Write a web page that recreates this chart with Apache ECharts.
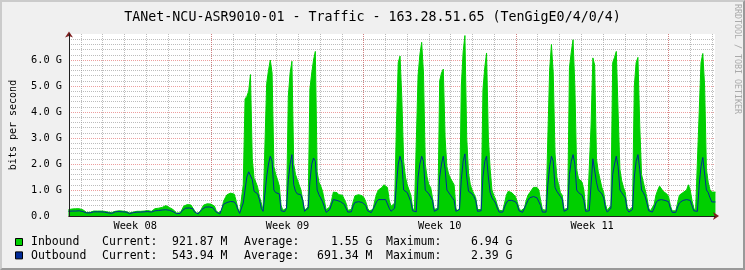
<!DOCTYPE html>
<html>
<head>
<meta charset="utf-8">
<script src="https://cdn.jsdelivr.net/npm/echarts@6/dist/echarts.min.js"></script>
<style>
html,body{margin:0;padding:0;background:#F0F0F0;}
#wrap{position:relative;width:745px;height:270px;}
#chart{position:absolute;left:0;top:0;width:745px;height:270px;}
#frame{position:absolute;left:0;top:0;width:745px;height:270px;box-sizing:border-box;border:2px solid;border-color:#CBCBCB #999999 #999999 #CBCBCB;pointer-events:none;}
</style>
</head>
<body>
<div id="wrap"><div id="chart"></div><div id="frame"></div></div>
<script>
// ---- data (Gbit/s), 2-hour samples, first sample = day 0 06:00 ----
const startDay = 0.25;
const stepDay = 1 / 12;
const inbound = [
  .24,.26,.27,.28,.28,.27,.28,.26,.24,                 // day 0 (from 06:00)
  .2,.14,.13,.14,.17,.19,.2,.19,.2,.19,.18,.18,        // day 1
  .17,.15,.12,.13,.16,.18,.19,.2,.19,.19,.18,.17,      // day 2
  .14,.12,.13,.15,.18,.18,.19,.18,.18,.19,.2,.21,      // day 3
  .2,.18,.22,.28,.3,.3,.31,.33,.33,.4,.34,.33,         // day 4
  .3,.25,.18,.12,.1,.12,.25,.38,.43,.44,.44,.42,       // day 5
  .4,.2,.1,.1,.15,.3,.42,.46,.47,.47,.46,.44,          // day 6
  .38,.2,.12,.1,.2,.55,.7,.82,.8,.88,.85,.84,          // day 7
  .6,.3,.12,.12,1.2,4.5,4.6,4.8,5.44,2.2,1.45,1.3,     // day 8
  1.1,.75,.5,.22,.25,5.1,5.6,6.0,5.5,1.9,1.6,1.4,      // day 9
  1.15,.4,.22,.2,.3,4.6,5.5,5.95,2.0,1.6,1.4,1.2,      // day 10
  1.0,.63,.22,.2,.35,4.9,5.5,6.0,6.33,1.7,1.3,1.15,    // day 11
  .95,.6,.24,.24,.35,.6,.92,.92,.9,.82,.82,.8,         // day 12
  .75,.5,.22,.2,.25,.55,.78,.82,.82,.8,.78,.7,         // day 13
  .55,.3,.2,.2,.25,.6,.85,1.0,1.0,1.1,1.2,1.2,         // day 14
  1.1,.6,.37,.37,.5,3.5,5.9,6.15,4.5,2.1,1.5,1.2,      // day 15
  1.0,.8,.3,.22,.22,5.4,6.2,6.68,5.5,2.0,1.5,1.2,      // day 16
  1.1,.7,.25,.2,.3,5.2,5.5,5.65,3.0,1.9,1.6,1.45,      // day 17
  1.4,1.2,.3,.2,.3,5.0,6.3,6.94,3.0,1.65,1.2,1.0,      // day 18
  .85,.7,.25,.2,.25,4.85,5.7,6.27,3.0,1.8,1.0,.8,      // day 19
  .65,.4,.22,.2,.2,.5,.8,.95,1.0,.9,.88,.75,           // day 20
  .55,.3,.2,.2,.3,.6,.8,.9,1.0,1.1,1.15,1.1,           // day 21
  1.0,.6,.25,.2,.22,3.0,5.6,6.6,5.5,2.4,1.5,1.2,       // day 22
  .9,.8,.25,.2,.3,5.7,6.3,6.78,5.0,1.8,1.45,1.4,       // day 23
  1.3,1.0,.3,.2,.25,3.5,6.08,5.8,2.2,1.7,1.4,1.1,      // day 24
  .9,.45,.22,.22,.4,5.9,6.1,6.33,4.0,1.8,1.35,1.1,     // day 25
  .9,.35,.22,.22,.35,5.0,5.9,6.1,3.5,1.6,1.3,1.0,      // day 26
  .7,.3,.2,.22,.45,.8,1.0,1.15,1.1,.95,.9,.85,         // day 27
  .75,.4,.2,.18,.2,.5,.8,.85,.9,.95,1.0,1.2,           // day 28
  1.0,.6,.3,.2,.25,4.0,5.9,6.25,5.0,1.8,1.3,1.0,       // day 29
  .92,.92,.92                                          // day 30
];
const outbound = [
  .18,.18,.19,.19,.19,.19,.2,.18,.17,
  .15,.12,.1,.12,.14,.16,.17,.16,.17,.16,.16,.15,
  .15,.12,.08,.1,.14,.16,.17,.17,.16,.16,.16,.15,
  .1,.09,.1,.13,.15,.15,.16,.15,.15,.16,.17,.17,
  .16,.15,.17,.2,.2,.21,.22,.23,.24,.24,.24,.22,
  .2,.17,.12,.09,.08,.1,.2,.27,.3,.3,.31,.3,
  .28,.15,.09,.08,.12,.25,.32,.34,.35,.35,.34,.32,
  .25,.15,.09,.08,.15,.45,.5,.52,.5,.56,.55,.54,
  .45,.25,.1,.12,.5,1.0,1.5,1.7,1.75,1.4,.95,.9,
  .85,.63,.3,.18,.2,1.5,2.0,2.3,2.1,1.0,.9,.88,
  .85,.2,.16,.17,.3,1.4,2.0,2.36,1.2,.95,.85,.82,
  .82,.6,.18,.17,.3,1.33,2.0,2.23,2.1,1.0,.82,.75,
  .55,.35,.14,.14,.25,.45,.63,.63,.6,.6,.55,.5,
  .45,.3,.15,.14,.16,.4,.52,.54,.55,.54,.52,.45,
  .4,.2,.14,.13,.16,.4,.55,.63,.63,.63,.65,.63,
  .6,.3,.18,.18,.3,1.2,2.0,2.3,2.05,1.0,.95,.9,
  .9,.55,.2,.15,.16,1.5,2.0,2.3,2.1,1.0,.95,.85,
  .8,.6,.18,.15,.25,1.5,2.0,2.3,1.8,1.0,1.0,.8,
  .7,.6,.18,.15,.25,1.4,2.1,2.39,1.5,.95,.88,.85,
  .75,.6,.18,.15,.2,1.5,2.1,2.3,1.5,.9,.7,.6,
  .5,.3,.15,.14,.15,.35,.5,.6,.6,.6,.6,.55,
  .45,.2,.14,.14,.2,.45,.6,.7,.72,.75,.75,.7,
  .65,.4,.15,.13,.15,1.2,1.9,2.3,2.1,1.1,.95,.85,
  .75,.65,.18,.15,.25,1.6,2.1,2.36,2.0,1.0,.9,.85,
  .8,.6,.18,.15,.2,1.2,2.2,2.2,1.3,1.0,.95,.85,
  .7,.3,.15,.15,.3,1.6,2.0,2.3,1.9,1.0,.9,.85,
  .7,.25,.15,.15,.25,1.5,2.1,2.36,1.8,1.0,.9,.75,
  .5,.2,.14,.15,.3,.5,.6,.63,.63,.63,.6,.6,
  .55,.3,.14,.13,.14,.35,.5,.55,.6,.63,.63,.6,
  .6,.4,.2,.14,.18,1.2,1.9,2.25,2.2,1.0,.9,.7,
  .54,.54,.54
];
const weekLabels = ['Week 08', 'Week 09', 'Week 10', 'Week 11'];
const weekLabelDays = [3.5, 10.5, 17.5, 24.5];
const yTicksG = [0, 1, 2, 3, 4, 5, 6];
const legendRows = [
  {name: 'Inbound',  color: '#00CF00', current: '921.87 M', average: '1.55 G',   maximum: '6.94 G'},
  {name: 'Outbound', color: '#002A97', current: '543.94 M', average: '691.34 M', maximum: '2.39 G'}
];
const titleText = 'TANet-NCU-ASR9010-01 - Traffic - 163.28.51.65 (TenGigE0/4/0/4)';

// ---- layout ----
const MONO = '"DejaVu Sans Mono", monospace';
const PLOT_L = 65, PLOT_R = 715, PLOT_T = 34, PLOT_H = 182;
const DAY0_X = 59, PX_PER_DAY = 21.76;
const xMin = (PLOT_L - DAY0_X) / PX_PER_DAY;
const xMax = (PLOT_R - DAY0_X) / PX_PER_DAY;
const GRID_C = 'rgba(143,143,143,0.6)';
const MGRID_C = 'rgba(222,79,79,0.55)';

const toPairs = arr => arr.map((v, i) => [startDay + i * stepDay, v]);

const chart = echarts.init(document.getElementById('chart'), null, {renderer: 'canvas'});

const hidden = {axisLine:{show:false}, axisTick:{show:false}, axisLabel:{show:false}, splitLine:{show:false}};
const xa = (o, extra) => Object.assign({type:'value', position:'bottom'}, o, hidden, extra || {});
const ya = (o, extra) => Object.assign({type:'value', position:'left'}, o, hidden, extra || {});

const legendGraphics = [];
legendRows.forEach((r, i) => {
  const yc = 242.3 + i * 13.4;
  legendGraphics.push({type:'rect', shape:{x:15.5, y:yc - 3.8, width:7, height:7}, style:{fill:r.color, stroke:'#000', lineWidth:1}});
  const t = (text, x, align) => ({type:'text', x:x, y:yc, style:{text:text, font:'11.5px ' + MONO, fill:'#000', textAlign:align || 'left', textVerticalAlign:'middle'}});
  legendGraphics.push(t(r.name, 31));
  legendGraphics.push(t('Current:', 102));
  legendGraphics.push(t(r.current, 227.5, 'right'));
  legendGraphics.push(t('Average:', 244));
  legendGraphics.push(t(r.average, 372.5, 'right'));
  legendGraphics.push(t('Maximum:', 386));
  legendGraphics.push(t(r.maximum, 512.5, 'right'));
});

const option = {
  animation: false,
  backgroundColor: '#F0F0F0',
  title: {
    text: titleText, left: 'center', top: 6,
    textStyle: {fontFamily: MONO, fontSize: 13.3, fontWeight: 'normal', color: '#000'}
  },
  grid: [
    {left: PLOT_L, top: PLOT_T, width: PLOT_R - PLOT_L, height: PLOT_H, show: true, backgroundColor: '#FFFFFF', borderWidth: 0, containLabel: false},
    {left: DAY0_X, top: PLOT_T, width: PLOT_R - DAY0_X, height: PLOT_H, show: false, containLabel: false}
  ],
  xAxis: [
    xa({gridIndex:0, min:xMin, max:xMax, z:5}, {
      axisLine:{show:true, symbol:['none','arrow'], symbolSize:[6,6], symbolOffset:[0,4], lineStyle:{color:'#7F1F1F', width:1}}
    }),
    xa({gridIndex:0, min:xMin, max:xMax, z:6}, {
      axisLine:{show:true, lineStyle:{color:'#1F1F1F', width:1}}
    }),
    xa({gridIndex:1, min:0, max:xMax, interval:1, z:1}, {
      splitLine:{show:true, showMinLine:false, showMaxLine:false, lineStyle:{color:GRID_C, width:1, type:[1,1]}}
    }),
    xa({gridIndex:1, min:0, max:xMax, interval:7, z:1}, {
      splitLine:{show:true, showMinLine:false, showMaxLine:false, lineStyle:{color:MGRID_C, width:1, type:[1,1]}}
    }),
    xa({gridIndex:1, min:0, max:xMax, interval:3.5, z:1}, {
      axisLabel:{show:true, margin:5, fontFamily:MONO, fontSize:10.3, color:'#000',
        showMinLabel:true, showMaxLabel:false,
        formatter: v => { const k = weekLabelDays.findIndex(d => Math.abs(d - v) < 1e-6); return k >= 0 ? weekLabels[k] : ''; }}
    })
  ],
  yAxis: [
    ya({gridIndex:0, min:0, max:7, interval:1, z:1}, {
      name:'bits per second', nameLocation:'middle', nameGap:51, nameRotate:90,
      nameTextStyle:{fontFamily:MONO, fontSize:10, color:'#000'},
      axisLabel:{show:true, margin:7, fontFamily:MONO, fontSize:10.3, color:'#000',
        formatter: v => yTicksG.indexOf(v) < 0 ? '' : (v === 0 ? '0.0  ' : v.toFixed(1) + ' G')},
      splitLine:{show:true, showMinLine:false, showMaxLine:false, lineStyle:{color:MGRID_C, width:1, type:[1,1]}},
      minorTick:{show:false, splitNumber:5},
      minorSplitLine:{show:true, lineStyle:{color:GRID_C, width:1, type:[1,1]}}
    }),
    ya({gridIndex:0, min:0, max:7, z:5}, {
      axisLine:{show:true, symbol:['none','arrow'], symbolSize:[6,6], symbolOffset:[0,2.5], lineStyle:{color:'#7F1F1F', width:1}}
    }),
    ya({gridIndex:0, min:0, max:7, z:6}, {
      axisLine:{show:true, lineStyle:{color:'#1F1F1F', width:1}}
    }),
    ya({gridIndex:1, min:0, max:7, show:false})
  ],
  series: [
    {name:'Inbound', type:'line', xAxisIndex:0, yAxisIndex:0, data: toPairs(inbound), showSymbol:false, symbol:'none',
      lineStyle:{color:'#00CF00', width:1}, areaStyle:{color:'#00CF00', opacity:1}, z:2},
    {name:'Outbound', type:'line', xAxisIndex:0, yAxisIndex:0, data: toPairs(outbound), showSymbol:false, symbol:'none',
      lineStyle:{color:'#002A97', width:1}, z:3}
  ],
  graphic: [
    {type:'text', x:737, y:4, rotation:-Math.PI/2,
      style:{text:'RRDTOOL / TOBI OETIKER', font:'8.3px ' + MONO, fill:'#AAAAAA', textAlign:'left', textVerticalAlign:'middle'}}
  ].concat(legendGraphics)
};
chart.setOption(option);
</script>
</body>
</html>
